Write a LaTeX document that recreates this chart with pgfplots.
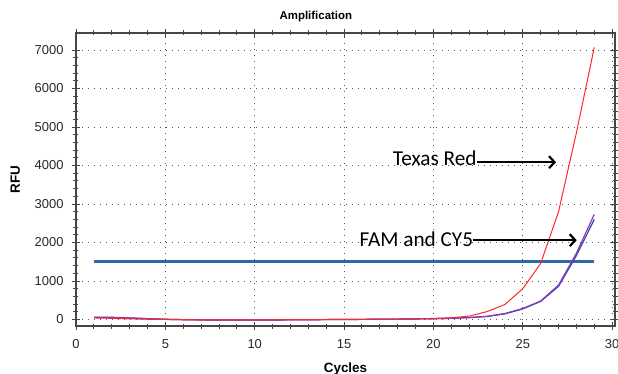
\documentclass[border=0pt]{standalone}
\usepackage{fontspec}
\setmainfont{Liberation Sans}
\newfontfamily\calibri{Carlito}
\usepackage{pgfplots}
\pgfplotsset{compat=1.18}
\usetikzlibrary{arrows.meta}
\definecolor{thr}{RGB}{46,104,166}
\definecolor{rfured}{RGB}{255,40,40}
\definecolor{purp}{RGB}{140,55,180}
\definecolor{bluel}{RGB}{50,75,175}
\definecolor{axgray}{RGB}{70,70,70}
\definecolor{labgray}{RGB}{40,40,40}
\begin{document}
\begin{tikzpicture}
\begin{axis}[
  name=ax,
  scale only axis,
  width=539bp, height=293bp,
  xmin=0, xmax=30.16,
  ymin=-169, ymax=7442,
  xtick={0,5,...,30},
  ytick={0,1000,...,7000},
  minor x tick num=4,
  minor y tick num=4,
  tick align=center,
  major tick length=8bp,
  minor tick length=5bp,
  tick style={axgray, line width=0.9bp},
  axis line style={axgray, line width=1.3bp},
  xmajorgrids, ymajorgrids,
  grid style={black!65, line width=0.8bp, dash pattern=on 0.8bp off 5.2bp},
  /pgf/number format/assume math mode=true,
  scaled y ticks=false,
  yticklabel style={/pgf/number format/set thousands separator={}, font=\fontsize{13}{15}\selectfont, text=labgray, xshift=-5bp},
  xticklabel style={font=\fontsize{13}{15}\selectfont, text=labgray, yshift=-6bp},
  title={Amplification},
  title style={font=\bfseries\fontsize{11.5}{13}\selectfont, at={(axis description cs:0.445,1.024)}, anchor=base},
  xlabel={Cycles},
  xlabel style={font=\bfseries\fontsize{13.5}{15}\selectfont, at={(axis description cs:0.5,-0.157)}, anchor=base},
  ylabel={RFU},
  ylabel style={font=\bfseries\fontsize{13.5}{15}\selectfont, at={(axis description cs:-0.1039,0.5)}, anchor=base},
]
% threshold
\addplot[thr, line width=2.6bp] coordinates {(1,1500) (29,1500)};
% FAM (blue)
\addplot[bluel, line width=1.2bp] coordinates {
(1,55) (2,50) (3,38) (4,20) (5,5) (6,-5) (7,-12) (8,-15) (9,-15) (10,-15)
(11,-12) (12,-10) (13,-6) (14,-3) (15,0) (16,3) (17,6) (18,10) (19,14) (20,20)
(21,30) (22,48) (23,78) (24,145) (25,275) (26,470) (27,860) (28,1660) (29,2600)};
% CY5 (purple)
\addplot[purp, line width=1.2bp] coordinates {
(1,62) (2,58) (3,42) (4,22) (5,6) (6,-4) (7,-10) (8,-13) (9,-14) (10,-14)
(11,-12) (12,-9) (13,-6) (14,-3) (15,0) (16,3) (17,6) (18,10) (19,15) (20,22)
(21,32) (22,52) (23,82) (24,155) (25,285) (26,480) (27,895) (28,1720) (29,2730)};
% Texas Red
\addplot[rfured, line width=1bp] coordinates {
(1,40) (2,30) (3,16) (4,6) (5,0) (6,-5) (7,-8) (8,-10) (9,-10) (10,-10)
(11,-8) (12,-5) (13,-3) (14,0) (15,2) (16,5) (17,8) (18,12) (19,18) (20,28)
(21,45) (22,88) (23,205) (24,390) (25,800) (26,1455) (27,2800) (28,4850) (29,7070)};
% annotations
\draw[black, line width=2.2bp, -{Straight Barb[length=5.5bp,width=12bp]}] (axis cs:22.42,4086) -- (axis cs:26.86,4086);
\node[anchor=base east, inner sep=0pt, font=\calibri\fontsize{21.3}{25}\selectfont] at (axis cs:22.42,4000) {Texas Red};
\draw[black, line width=2.2bp, -{Straight Barb[length=5.5bp,width=12bp]}] (axis cs:22.23,2060) -- (axis cs:28.02,2060);
\node[anchor=base east, inner sep=0pt, font=\calibri\fontsize{21.3}{25}\selectfont] at (axis cs:22.23,1904) {FAM and CY5};
\end{axis}
\pgfresetboundingbox
\path ([xshift=-76bp,yshift=-48bp]ax.south west) rectangle ([xshift=3bp,yshift=33bp]ax.north east);
\end{tikzpicture}
\end{document}
